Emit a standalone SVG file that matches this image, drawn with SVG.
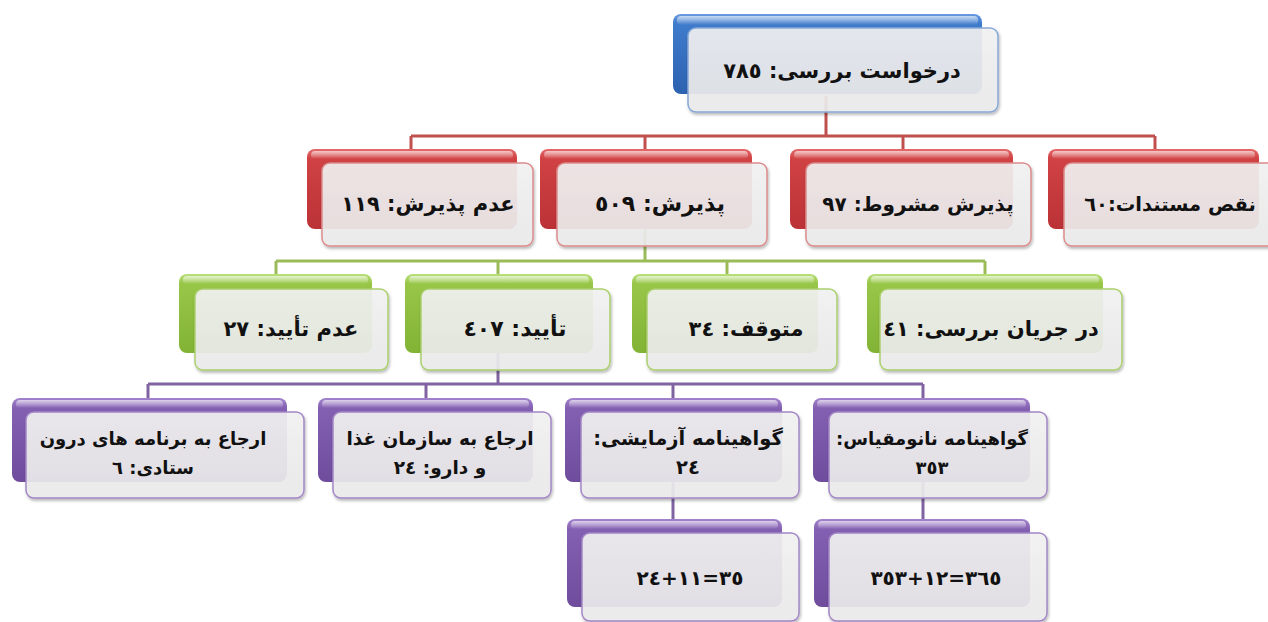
<svg xmlns="http://www.w3.org/2000/svg" width="1268" height="622" viewBox="0 0 1268 622">
<defs>
<linearGradient id="gBlue" x1="0" y1="0" x2="0" y2="1"><stop offset="0" stop-color="#6a9be0"/><stop offset="0.12" stop-color="#3f7bcc"/><stop offset="1" stop-color="#2c62b0"/></linearGradient>
<linearGradient id="gRed" x1="0" y1="0" x2="0" y2="1"><stop offset="0" stop-color="#e56a6a"/><stop offset="0.12" stop-color="#d04244"/><stop offset="1" stop-color="#bb3236"/></linearGradient>
<linearGradient id="gGreen" x1="0" y1="0" x2="0" y2="1"><stop offset="0" stop-color="#b9e07a"/><stop offset="0.12" stop-color="#98c648"/><stop offset="1" stop-color="#82b334"/></linearGradient>
<linearGradient id="gPurple" x1="0" y1="0" x2="0" y2="1"><stop offset="0" stop-color="#a283cc"/><stop offset="0.12" stop-color="#8460b2"/><stop offset="1" stop-color="#6f4c9c"/></linearGradient>
<linearGradient id="gFront" x1="0" y1="0" x2="0" y2="1"><stop offset="0" stop-color="#f3f3f3"/><stop offset="1" stop-color="#ececec"/></linearGradient>
<linearGradient id="gGloss" x1="0" y1="0" x2="0" y2="1"><stop offset="0" stop-color="#ffffff" stop-opacity="0.65"/><stop offset="1" stop-color="#ffffff" stop-opacity="0"/></linearGradient>
<filter id="sh" x="-10%" y="-10%" width="120%" height="130%"><feDropShadow dx="1" dy="2" stdDeviation="1.5" flood-color="#000" flood-opacity="0.3"/></filter>
</defs>
<style>
.back{stroke:none}
.blue{fill:url(#gBlue)}
.red{fill:url(#gRed)}
.green{fill:url(#gGreen)}
.purple{fill:url(#gPurple)}
.gloss{fill:url(#gGloss)}
.front{fill:url(#gFront);fill-opacity:0.9;stroke-width:1.5;filter:url(#sh)}
.fb{stroke:#86a8d8}
.fr{stroke:#dc8c8c}
.fg{stroke:#abd06e}
.fp{stroke:#a386c6}
.t{font-family:"DejaVu Sans",sans-serif;font-weight:bold;fill:#111;text-anchor:middle}
.c{fill:none;stroke-width:3}
.cr{stroke:#c0504d}
.cg{stroke:#9bbb59}
.cp{stroke:#8064a2}
</style>
<g id="connectors">
<path class="c cr" d="M826,96 V136 M411,136 H1155 M411,136 V150 M645,136 V150 M903,136 V150 M1155,136 V150"/>
<path class="c cg" d="M645,229 V261 M276,261 H985 M276,261 V275 M498,261 V275 M727,261 V275 M985,261 V275"/>
<path class="c cp" d="M498,353 V384 M148,384 H923 M148,384 V399 M426,384 V399 M673,384 V399 M923,384 V399 M673,480 V520 M923,480 V520"/>
</g>
<g id="n-root">
<rect class="back blue" x="673" y="14" width="309" height="80" rx="8"/>
<rect class="gloss" x="677" y="16" width="301" height="9" rx="4"/>
<rect class="front fb" x="688" y="28" width="310" height="84" rx="8"/>
<text class="t" x="842" y="78" font-size="21" direction="rtl">درخواست بررسی: ٧٨٥</text>
</g>
<g id="n-reject">
<rect class="back red" x="307" y="149" width="210" height="80" rx="8"/>
<rect class="gloss" x="311" y="151" width="202" height="8" rx="4"/>
<rect class="front fr" x="322" y="163" width="211" height="83" rx="8"/>
<text class="t" x="428" y="211" font-size="21" direction="rtl">عدم پذیرش: ١١٩</text>
</g>
<g id="n-accept">
<rect class="back red" x="540" y="149" width="212" height="80" rx="8"/>
<rect class="gloss" x="544" y="151" width="204" height="8" rx="4"/>
<rect class="front fr" x="557" y="163" width="210" height="83" rx="8"/>
<text class="t" x="660" y="211" font-size="22" direction="rtl">پذیرش: ٥٠٩</text>
</g>
<g id="n-cond">
<rect class="back red" x="790" y="149" width="223" height="80" rx="8"/>
<rect class="gloss" x="794" y="151" width="215" height="8" rx="4"/>
<rect class="front fr" x="806" y="163" width="225" height="83" rx="8"/>
<text class="t" x="918" y="211" font-size="20" direction="rtl">پذیرش مشروط: ٩٧</text>
</g>
<g id="n-missing">
<rect class="back red" x="1048" y="149" width="211" height="80" rx="8"/>
<rect class="gloss" x="1052" y="151" width="203" height="8" rx="4"/>
<rect class="front fr" x="1064" y="163" width="212" height="83" rx="8"/>
<text class="t" x="1170" y="211" font-size="19.5" direction="rtl">نقص مستندات:٦٠</text>
</g>
<g id="n-notapproved">
<rect class="back green" x="179" y="274" width="193" height="79" rx="8"/>
<rect class="gloss" x="183" y="276" width="185" height="8" rx="4"/>
<rect class="front fg" x="195" y="289" width="193" height="81" rx="8"/>
<text class="t" x="291" y="336" font-size="21" direction="rtl">عدم تأیید: ٢٧</text>
</g>
<g id="n-approved">
<rect class="back green" x="405" y="274" width="188" height="79" rx="8"/>
<rect class="gloss" x="409" y="276" width="180" height="8" rx="4"/>
<rect class="front fg" x="421" y="289" width="189" height="81" rx="8"/>
<text class="t" x="515" y="336" font-size="22" direction="rtl">تأیید: ٤٠٧</text>
</g>
<g id="n-stopped">
<rect class="back green" x="632" y="274" width="186" height="79" rx="8"/>
<rect class="gloss" x="636" y="276" width="178" height="8" rx="4"/>
<rect class="front fg" x="647" y="289" width="190" height="81" rx="8"/>
<text class="t" x="746" y="336" font-size="21" direction="rtl">متوقف: ٣٤</text>
</g>
<g id="n-inprogress">
<rect class="back green" x="867" y="274" width="236" height="79" rx="8"/>
<rect class="gloss" x="871" y="276" width="228" height="8" rx="4"/>
<rect class="front fg" x="880" y="289" width="242" height="81" rx="8"/>
<text class="t" x="991" y="336" font-size="21" direction="rtl">در جریان بررسی: ٤١</text>
</g>
<g id="n-internal">
<rect class="back purple" x="12" y="398" width="275" height="84" rx="8"/>
<rect class="gloss" x="16" y="400" width="267" height="8" rx="4"/>
<rect class="front fp" x="26" y="412" width="278" height="86" rx="8"/>
<text class="t" x="153" y="445" font-size="18" direction="rtl">ارجاع به برنامه های درون</text>
<text class="t" x="153" y="474" font-size="18" direction="rtl">ستادی: ٦</text>
</g>
<g id="n-fda">
<rect class="back purple" x="318" y="398" width="215" height="84" rx="8"/>
<rect class="gloss" x="322" y="400" width="207" height="8" rx="4"/>
<rect class="front fp" x="333" y="412" width="218" height="86" rx="8"/>
<text class="t" x="440" y="445" font-size="18.5" direction="rtl">ارجاع به سازمان غذا</text>
<text class="t" x="440" y="474" font-size="18.5" direction="rtl">و دارو: ٢٤</text>
</g>
<g id="n-trial">
<rect class="back purple" x="565" y="398" width="217" height="84" rx="8"/>
<rect class="gloss" x="569" y="400" width="209" height="8" rx="4"/>
<rect class="front fp" x="581" y="412" width="218" height="86" rx="8"/>
<text class="t" x="688" y="445" font-size="19.5" direction="rtl">گواهینامه آزمایشی:</text>
<text class="t" x="688" y="474" font-size="19.5" direction="rtl">٢٤</text>
</g>
<g id="n-nano">
<rect class="back purple" x="813" y="398" width="217" height="84" rx="8"/>
<rect class="gloss" x="817" y="400" width="209" height="8" rx="4"/>
<rect class="front fp" x="829" y="412" width="218" height="86" rx="8"/>
<text class="t" x="932" y="445" font-size="18" direction="rtl">گواهینامه نانومقیاس:</text>
<text class="t" x="932" y="474" font-size="18" direction="rtl">٣٥٣</text>
</g>
<g id="n-trialsum">
<rect class="back purple" x="567" y="519" width="215" height="88" rx="8"/>
<rect class="gloss" x="571" y="521" width="207" height="8" rx="4"/>
<rect class="front fp" x="582" y="533" width="217" height="88" rx="8"/>
<text class="t" x="690" y="585" font-size="20" direction="ltr" unicode-bidi="bidi-override">٢٤+١١=٣٥</text>
</g>
<g id="n-nanosum">
<rect class="back purple" x="814" y="519" width="216" height="88" rx="8"/>
<rect class="gloss" x="818" y="521" width="208" height="8" rx="4"/>
<rect class="front fp" x="829" y="533" width="218" height="88" rx="8"/>
<text class="t" x="936" y="585" font-size="20" direction="ltr" unicode-bidi="bidi-override">٣٥٣+١٢=٣٦٥</text>
</g>
</svg>
